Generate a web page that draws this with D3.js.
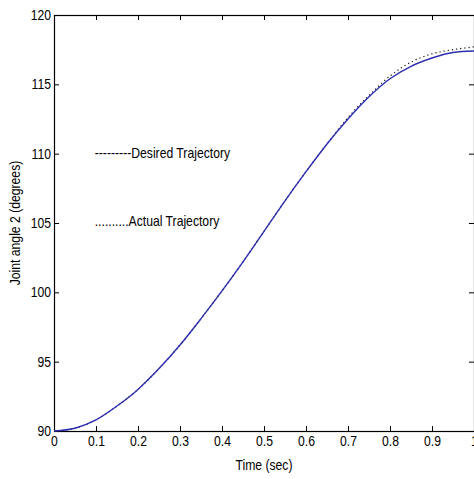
<!DOCTYPE html>
<html>
<head>
<meta charset="utf-8">
<script src="https://cdn.jsdelivr.net/npm/d3@7"></script>
<style>
  body { margin: 0; background: #fff; }
  text { font-family: "Liberation Sans", Arial, sans-serif; }
</style>
</head>
<body>
<div id="chart"></div>
<script>
// time samples (sec)
const timeSec = [0, 0.05, 0.1, 0.15, 0.2, 0.25, 0.3, 0.35, 0.4, 0.45, 0.5,
  0.55, 0.6, 0.65, 0.7, 0.75, 0.8, 0.85, 0.9, 0.95, 1.0];
// joint angle 2, degrees
const desiredDeg = [90.0, 90.2, 90.8, 91.8, 93.0, 94.5, 96.2, 98.1, 100.1, 102.2, 104.4,
  106.6, 108.7, 110.7, 112.5, 114.1, 115.4, 116.3, 116.9, 117.3, 117.4];
const actualDeg = [90.0, 90.2, 90.8, 91.8, 93.0, 94.5, 96.2, 98.1, 100.1, 102.2, 104.4,
  106.6, 108.7, 110.7, 112.6, 114.2, 115.6, 116.6, 117.2, 117.5, 117.7];
const xTicks = [0, 0.1, 0.2, 0.3, 0.4, 0.5, 0.6, 0.7, 0.8, 0.9, 1];
const yTicks = [90, 95, 100, 105, 110, 115, 120];

const W = 474, H = 479;
const margin = { top: 15, right: 0, bottom: 48, left: 54 };
const width = W - margin.left - margin.right;
const height = H - margin.top - margin.bottom;

const svg = d3.select('#chart').append('svg')
  .attr('width', W).attr('height', H);
const g = svg.append('g').attr('transform', `translate(${margin.left},${margin.top})`);

const x = d3.scaleLinear().domain([0, 1]).range([0, width]);
const y = d3.scaleLinear().domain([90, 120]).range([height, 0]);

const fmtX = d => d === 0 ? '0' : d === 1 ? '1' : d3.format('.1f')(d);

// axes with inward ticks on all four sides
const style = sel => {
  sel.select('.domain').remove();
  sel.selectAll('line').attr('stroke', '#000');
  sel.selectAll('text').attr('fill', '#000').style('font-size', '14.5px');
};
g.append('g').attr('transform', `translate(0,${height})`)
  .call(d3.axisBottom(x).tickValues(xTicks).tickFormat(fmtX).tickSizeInner(-5).tickSizeOuter(0).tickPadding(5))
  .call(style);
g.append('g')
  .call(d3.axisTop(x).tickValues(xTicks).tickFormat('').tickSizeInner(-5).tickSizeOuter(0))
  .call(style);
g.append('g')
  .call(d3.axisLeft(y).tickValues(yTicks).tickSizeInner(-5).tickSizeOuter(0).tickPadding(3))
  .call(style);
g.append('g').attr('transform', `translate(${width},0)`)
  .call(d3.axisRight(y).tickValues(yTicks).tickFormat('').tickSizeInner(-5).tickSizeOuter(0))
  .call(style);

g.append('rect')
  .attr('x', 0.5).attr('y', 0.5).attr('width', width).attr('height', height)
  .attr('fill', 'none').attr('stroke', '#000').attr('stroke-width', 1.2);

const line = vals => d3.line()
  .x((_, i) => x(timeSec[i]))
  .y((d) => y(d))
  .curve(d3.curveMonotoneX)(vals);

g.append('path').attr('d', line(actualDeg))
  .attr('fill', 'none').attr('stroke', '#111').attr('stroke-width', 1.2)
  .attr('stroke-dasharray', '1.2,3');
g.append('path').attr('d', line(desiredDeg))
  .attr('fill', 'none').attr('stroke', '#2d2db0').attr('stroke-width', 1.4);

// in-plot text labels
g.append('text').attr('x', x(0.097)).attr('y', y(109.7))
  .style('font-size', '14.5px').text('---------Desired Trajectory');
g.append('text').attr('x', x(0.097)).attr('y', y(104.8))
  .style('font-size', '14.5px').text('..........Actual Trajectory');

// axis titles
svg.append('text')
  .attr('x', margin.left + x(0.5)).attr('y', 470)
  .attr('text-anchor', 'middle').style('font-size', '14.5px').text('Time (sec)');
svg.append('text')
  .attr('transform', `translate(20,${margin.top + height / 2}) rotate(-90)`)
  .attr('text-anchor', 'middle').style('font-size', '14.5px').text('Joint angle 2 (degrees)');

// the original uses a narrow Helvetica; squeeze glyphs horizontally
svg.selectAll('text').each(function () {
  const len = this.getComputedTextLength();
  if (len > 0) {
    d3.select(this).attr('textLength', len * 0.84).attr('lengthAdjust', 'spacingAndGlyphs');
  }
});
</script>
</body>
</html>
